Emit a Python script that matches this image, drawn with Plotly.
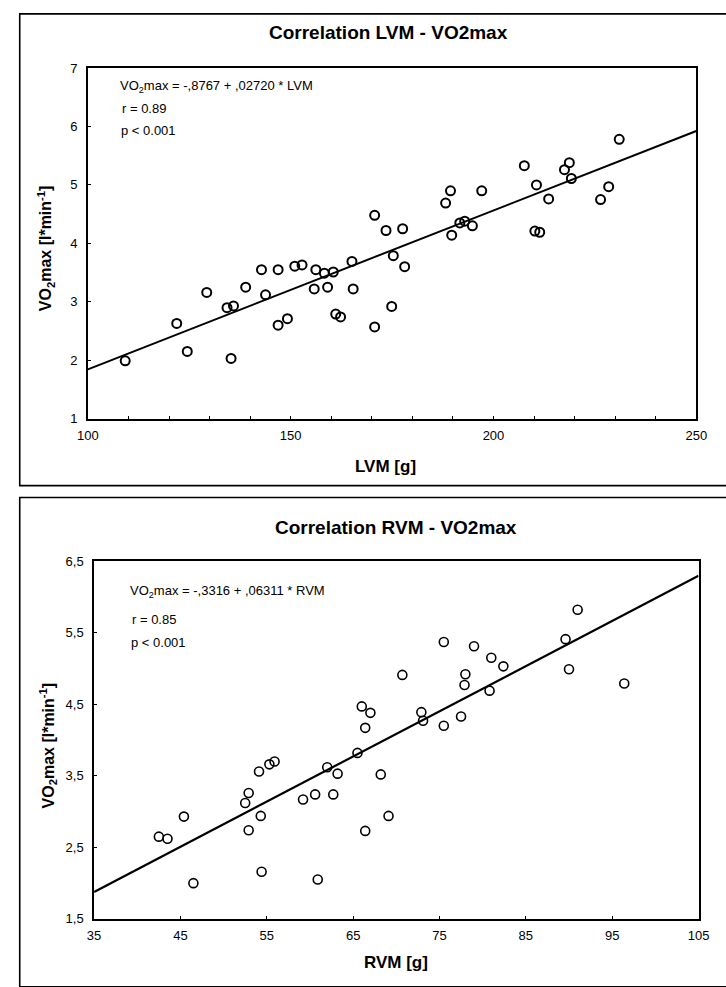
import plotly.graph_objects as go

W, H = 726, 987

# ---- data: LVM vs VO2max ----
lvm = [109.2, 121.9, 124.5, 129.3, 134.3, 135.9, 135.3, 138.9, 142.8, 143.8,
       146.9, 146.9, 149.2, 151.0, 152.8, 156.2, 155.8, 158.3, 160.5, 159.1,
       161.1, 162.3, 165.1, 165.4, 170.7, 173.5, 170.7, 174.9, 175.3, 177.6,
       178.1, 188.2, 189.4, 189.7, 191.7, 192.9, 194.8, 197.1, 207.6, 210.6,
       213.6, 210.2, 211.4, 217.5, 218.7, 219.2, 226.4, 228.4, 231.0]
vo2_lvm = [1.99, 2.63, 2.15, 3.16, 2.90, 2.93, 2.03, 3.25, 3.55, 3.12,
           3.55, 2.60, 2.71, 3.61, 3.63, 3.55, 3.22, 3.49, 3.51, 3.25,
           2.79, 2.74, 3.69, 3.22, 4.48, 4.22, 2.57, 2.92, 3.79, 4.25,
           3.60, 4.69, 4.90, 4.14, 4.35, 4.38, 4.30, 4.90, 5.33, 5.00,
           4.76, 4.21, 4.19, 5.26, 5.38, 5.11, 4.75, 4.97, 5.78]
lvm_intercept, lvm_slope = -0.8767, 0.02720

# ---- data: RVM vs VO2max ----
rvm = [42.5, 43.5, 45.4, 46.5, 52.5, 52.9, 52.9, 54.1, 54.3, 54.4,
       55.3, 55.9, 59.2, 60.6, 60.9, 62.0, 62.7, 63.2, 65.5, 66.0,
       67.0, 66.4, 68.2, 66.4, 69.1, 70.7, 72.9, 73.1, 75.5, 75.5,
       77.5, 77.9, 78.0, 79.0, 80.8, 81.0, 82.4, 89.6, 91.0, 90.0, 96.4]
vo2_rvm = [2.65, 2.62, 2.93, 2.00, 3.12, 3.26, 2.74, 3.56, 2.94, 2.16,
           3.66, 3.70, 3.17, 3.24, 2.05, 3.62, 3.24, 3.53, 3.82, 4.47,
           4.38, 4.17, 3.52, 2.73, 2.94, 4.91, 4.39, 4.27, 5.37, 4.20,
           4.33, 4.77, 4.92, 5.31, 4.69, 5.15, 5.03, 5.41, 5.82, 4.99, 4.79]
rvm_intercept, rvm_slope = -0.3316, 0.06311

lvm_range = [100, 250]
rvm_range = [35, 105]
top_y_ticks = [1, 2, 3, 4, 5, 6, 7]
top_x_ticks = [100, 150, 200, 250]
bot_y_ticks = [1.5, 2.5, 3.5, 4.5, 5.5, 6.5]
bot_y_text = ["1,5", "2,5", "3,5", "4,5", "5,5", "6,5"]
bot_x_ticks = [35, 45, 55, 65, 75, 85, 95, 105]

FONT = "Liberation Sans, Arial, sans-serif"

def px_x(p):
    return p / W

def px_y(p):
    return 1 - p / H

fig = go.Figure()

fig.add_trace(go.Scatter(
    x=lvm, y=vo2_lvm, mode="markers", xaxis="x", yaxis="y",
    marker=dict(symbol="circle-open", size=9, color="black", line=dict(width=2, color="black")),
    showlegend=False))
fig.add_trace(go.Scatter(
    x=lvm_range, y=[lvm_intercept + lvm_slope * v for v in lvm_range],
    mode="lines", xaxis="x", yaxis="y", line=dict(color="black", width=2), showlegend=False))

fig.add_trace(go.Scatter(
    x=rvm, y=vo2_rvm, mode="markers", xaxis="x2", yaxis="y2",
    marker=dict(symbol="circle-open", size=9, color="black", line=dict(width=1.6, color="black")),
    showlegend=False))
fig.add_trace(go.Scatter(
    x=rvm_range, y=[rvm_intercept + rvm_slope * v for v in rvm_range],
    mode="lines", xaxis="x2", yaxis="y2", line=dict(color="black", width=2.2), showlegend=False))

axis_common = dict(showline=True, linecolor="black", linewidth=1.6, mirror=True,
                   showgrid=False, zeroline=False, ticks="inside", ticklen=3,
                   tickcolor="black", tickwidth=1.2,
                   tickfont=dict(family=FONT, size=13, color="black"))

fig.update_layout(
    width=W, height=H, margin=dict(l=0, r=0, t=0, b=0),
    paper_bgcolor="white", plot_bgcolor="white", showlegend=False,
    xaxis=dict(domain=[px_x(79.3), px_x(706.7)], range=lvm_range, anchor="y",
               tickvals=top_x_ticks, ticklabelstandoff=4,
               minor=dict(dtick=10, ticks="inside", ticklen=3, tickcolor="black", showgrid=False),
               **axis_common),
    yaxis=dict(domain=[px_y(418), px_y(62)], range=[1, 7], anchor="x",
               tickvals=top_y_ticks, ticklabelstandoff=6, **axis_common),
    xaxis2=dict(domain=[px_x(85.7), px_x(709)], range=rvm_range, anchor="y2",
                tickvals=bot_x_ticks, ticklabelstandoff=4, **axis_common),
    yaxis2=dict(domain=[px_y(926), px_y(562.7)], range=[1.5, 6.5], anchor="x2",
                tickvals=bot_y_ticks, ticktext=bot_y_text, ticklabelstandoff=6, **axis_common),
)

# outer frames
for y0, y1 in [(7, 486), (498, 995)]:
    fig.add_shape(type="rect", xref="paper", yref="paper",
                  x0=px_x(9), x1=px_x(740), y0=px_y(y1), y1=px_y(y0),
                  line=dict(color="black", width=1.6))

def ann(text, x, y, size=13, bold=False, xanchor="left", angle=0):
    fig.add_annotation(text=("<b>%s</b>" % text) if bold else text,
                       xref="paper", yref="paper", x=px_x(x), y=px_y(y),
                       xanchor=xanchor, yanchor="middle", showarrow=False, textangle=angle,
                       font=dict(family=FONT, size=size, color="black"))

# titles
ann("Correlation LVM - VO2max", 389, 26, size=19, bold=True, xanchor="center")
ann("Correlation RVM - VO2max", 397, 529, size=19, bold=True, xanchor="center")

# regression text
ann("VO<sub>2</sub>max = -,8767 + ,02720 * LVM", 110, 81, size=13)
ann("r = 0.89", 112, 103, size=13)
ann("p < 0.001", 111, 125, size=13)
ann("VO<sub>2</sub>max = -,3316 + ,06311 * RVM", 121, 594, size=13)
ann("r = 0.85", 123, 622, size=13)
ann("p < 0.001", 122, 645, size=13)

# axis titles
ann("LVM [g]", 386, 467, size=17, bold=True, xanchor="center")
ann("RVM [g]", 397, 970, size=17, bold=True, xanchor="center")
ann("VO<sub>2</sub>max [l*min<sup>-1</sup>]", 36, 245, size=16, bold=True, xanchor="center", angle=-90)
ann("VO<sub>2</sub>max [l*min<sup>-1</sup>]", 38, 750, size=16, bold=True, xanchor="center", angle=-90)

fig.write_html("out.html",
               config={"displayModeBar": False},
               post_script="document.documentElement.style.margin='0';"
                           "document.body.style.margin='0';"
                           "document.body.style.overflow='hidden';")
